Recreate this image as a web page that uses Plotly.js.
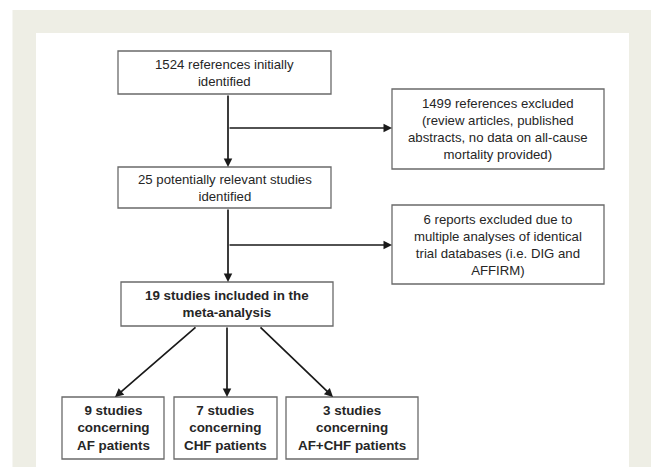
<!DOCTYPE html>
<html>
<head>
<meta charset="utf-8">
<script src="https://cdn.plot.ly/plotly-3.0.1.min.js"></script>
<style>
html,body{margin:0;padding:0;background:#ffffff;}
#chart{width:651px;height:467px;}
</style>
</head>
<body>
<div id="chart"></div>
<script>
// ---- chart content (texts) ----
var mainStepLabels = [
  "1524 references initially<br>identified",
  "25 potentially relevant studies<br>identified",
  "19 studies included in the<br>meta-analysis"
];
var exclusionLabels = [
  "1499 references excluded<br>(review articles, published<br>abstracts, no data on all-cause<br>mortality provided)",
  "6 reports excluded due to<br>multiple analyses of identical<br>trial databases (i.e. DIG and<br>AFFIRM)"
];
var subgroupLabels = [
  "9 studies<br>concerning<br>AF patients",
  "7 studies<br>concerning<br>CHF patients",
  "3 studies<br>concerning<br>AF+CHF patients"
];

// ---- layout geometry (pixel-space flowchart layout) ----
var mainBoxes = [
  {x0:118, x1:331, y0:51, y1:94, bold:false},
  {x0:118, x1:331, y0:167, y1:208, bold:false},
  {x0:121, x1:333, y0:282, y1:326, bold:true}
];
var exclBoxes = [
  {x0:392, x1:604, y0:89, y1:169},
  {x0:392, x1:604, y0:205, y1:284}
];
var subBoxes = [
  {x0:62, x1:164, y0:397, y1:459},
  {x0:174, x1:277, y0:397, y1:459},
  {x0:286, x1:418, y0:397, y1:459}
];
var arrows = [
  {from:[228,94], to:[228,167]},
  {from:[228,128], to:[392,128]},
  {from:[228,208], to:[228,282]},
  {from:[228,245], to:[392,245]},
  {from:[197,326], to:[115,397]},
  {from:[227,326], to:[227,397]},
  {from:[259,326], to:[333,397]}
];

var boxLine = {color:'#6a6a6a', width:1.3};
var textColor = '#262626';
var fontFam = '"Liberation Sans", Arial, Helvetica, sans-serif';

var shapes = [
  {type:'rect', xref:'x', yref:'y', x0:12.5, x1:651, y0:10, y1:467, fillcolor:'#eeeee5', line:{width:0}, layer:'below'},
  {type:'rect', xref:'x', yref:'y', x0:36, x1:629, y0:33, y1:467, fillcolor:'#ffffff', line:{width:0}, layer:'below'}
];
var annotations = [];

function addBox(b, label, bold){
  shapes.push({type:'rect', xref:'x', yref:'y', x0:b.x0, x1:b.x1, y0:b.y0, y1:b.y1,
    fillcolor:'rgba(0,0,0,0)', line:boxLine});
  annotations.push({xref:'x', yref:'y', x:(b.x0+b.x1)/2, y:(b.y0+b.y1)/2,
    xanchor:'center', yanchor:'middle', align:'center', showarrow:false,
    text: bold ? '<b>'+label.split('<br>').join('</b><br><b>')+'</b>' : label,
    font:{family:fontFam, size: bold ? 13.4 : 13.2, color:textColor}});
}
mainBoxes.forEach(function(b,i){ addBox(b, mainStepLabels[i], b.bold); });
exclBoxes.forEach(function(b,i){ addBox(b, exclusionLabels[i], false); });
subBoxes.forEach(function(b,i){ addBox(b, subgroupLabels[i], true); });

arrows.forEach(function(a){
  annotations.push({xref:'x', yref:'y', axref:'x', ayref:'y',
    x:a.to[0], y:a.to[1], ax:a.from[0], ay:a.from[1],
    showarrow:true, arrowhead:2, arrowsize:1, arrowwidth:1.7,
    arrowcolor:'#1a1a1a', standoff:0, startstandoff:0, text:''});
});

var layout = {
  width:651, height:467,
  margin:{l:0, r:0, t:0, b:0, pad:0},
  paper_bgcolor:'#ffffff', plot_bgcolor:'rgba(0,0,0,0)',
  xaxis:{range:[0,651], visible:false, fixedrange:true},
  yaxis:{range:[467,0], visible:false, fixedrange:true},
  showlegend:false,
  shapes:shapes,
  annotations:annotations
};
Plotly.newPlot('chart', [], layout, {staticPlot:true, displayModeBar:false});
</script>
</body>
</html>
